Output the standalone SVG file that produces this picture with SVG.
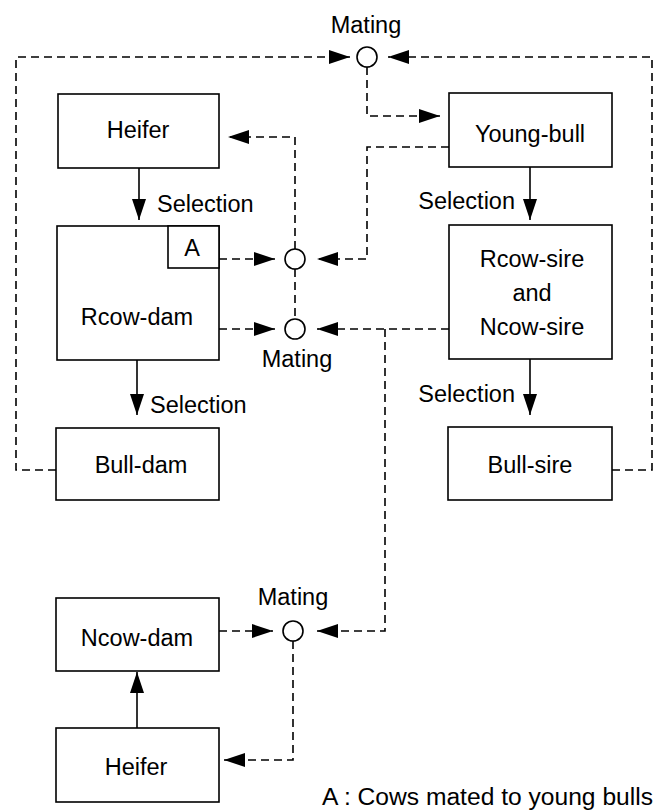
<svg xmlns="http://www.w3.org/2000/svg" width="659" height="810" viewBox="0 0 659 810">
<defs>
<marker id="ah" markerUnits="userSpaceOnUse" markerWidth="24" markerHeight="16" refX="21" refY="7" orient="auto">
<path d="M0,0 L21,7 L0,14 Z" fill="#000"/>
</marker>
<style>
.box{fill:#fff;stroke:#000;stroke-width:1.6}
.t{font-family:"Liberation Sans",Arial,sans-serif;font-size:23.5px;fill:#000}
.m{text-anchor:middle}
.d{fill:none;stroke:#000;stroke-width:1.6;stroke-dasharray:8 5}
.s{fill:none;stroke:#000;stroke-width:1.6}
.c{fill:#fff;stroke:#000;stroke-width:1.6}
</style>
</defs>
<rect width="659" height="810" fill="#fff"/>

<g id="connectors">
<path class="d" d="M56,470 H16 V57 H350" marker-end="url(#ah)"/>
<path class="d" d="M612,470 H652 V57 H388" marker-end="url(#ah)"/>
<path class="d" d="M367,67 V116 H440" marker-end="url(#ah)"/>
<path class="d" d="M449,147 H367 V259 H317" marker-end="url(#ah)"/>
<path class="d" d="M219,259 H275" marker-end="url(#ah)"/>
<path class="d" d="M295,249 V137 H228" marker-end="url(#ah)"/>
<path class="d" d="M295,269 V319"/>
<path class="d" d="M219,329 H275" marker-end="url(#ah)"/>
<path class="d" d="M449,329 H317" marker-end="url(#ah)"/>
<path class="d" d="M385,329 V631 H317" marker-end="url(#ah)"/>
<path class="d" d="M219,631 H273" marker-end="url(#ah)"/>
<path class="d" d="M293,641 V760 H224" marker-end="url(#ah)"/>
<path class="s" d="M139,168 V220" marker-end="url(#ah)"/>
<path class="s" d="M137,360 V415" marker-end="url(#ah)"/>
<path class="s" d="M530,167 V220" marker-end="url(#ah)"/>
<path class="s" d="M530,359 V415" marker-end="url(#ah)"/>
<path class="s" d="M137,728 V672" marker-end="url(#ah)"/>
</g>

<g id="mating-top">
<circle class="c" cx="367" cy="57" r="10"/>
<text class="t m" x="366" y="33">Mating</text>
</g>
<g id="mating-1">
<circle class="c" cx="295" cy="259" r="10"/>
</g>
<g id="mating-2">
<circle class="c" cx="295" cy="329" r="10"/>
<text class="t m" x="297" y="367">Mating</text>
</g>
<g id="mating-3">
<circle class="c" cx="293" cy="631" r="10"/>
<text class="t m" x="293" y="605">Mating</text>
</g>

<g id="heifer-top">
<rect class="box" x="58" y="94" width="161" height="74"/>
<text class="t m" x="138" y="138">Heifer</text>
</g>
<g id="rcow-dam">
<rect class="box" x="57" y="226" width="162" height="134"/>
<rect class="box" x="168" y="226" width="51" height="42"/>
<text class="t m" x="192" y="256">A</text>
<text class="t m" x="137" y="325">Rcow-dam</text>
</g>
<g id="bull-dam">
<rect class="box" x="56" y="428" width="163" height="72"/>
<text class="t m" x="141" y="473">Bull-dam</text>
</g>
<g id="young-bull">
<rect class="box" x="449" y="93" width="163" height="74"/>
<text class="t m" x="530" y="142">Young-bull</text>
</g>
<g id="rcow-sire">
<rect class="box" x="449" y="225" width="163" height="134"/>
<text class="t m" x="532" y="267">Rcow-sire</text>
<text class="t m" x="532" y="301">and</text>
<text class="t m" x="532" y="335">Ncow-sire</text>
</g>
<g id="bull-sire">
<rect class="box" x="448" y="427" width="164" height="73"/>
<text class="t m" x="530" y="473">Bull-sire</text>
</g>
<g id="ncow-dam">
<rect class="box" x="56" y="598" width="163" height="73"/>
<text class="t m" x="137" y="646">Ncow-dam</text>
</g>
<g id="heifer-bottom">
<rect class="box" x="56" y="728" width="163" height="74"/>
<text class="t m" x="136" y="775">Heifer</text>
</g>

<g id="labels">
<text class="t" x="157" y="212">Selection</text>
<text class="t" x="150" y="413">Selection</text>
<text class="t" x="515" y="209" text-anchor="end">Selection</text>
<text class="t" x="515" y="402" text-anchor="end">Selection</text>
<text class="t" x="322" y="805" textLength="331" lengthAdjust="spacingAndGlyphs">A : Cows mated to young bulls</text>
</g>
</svg>
